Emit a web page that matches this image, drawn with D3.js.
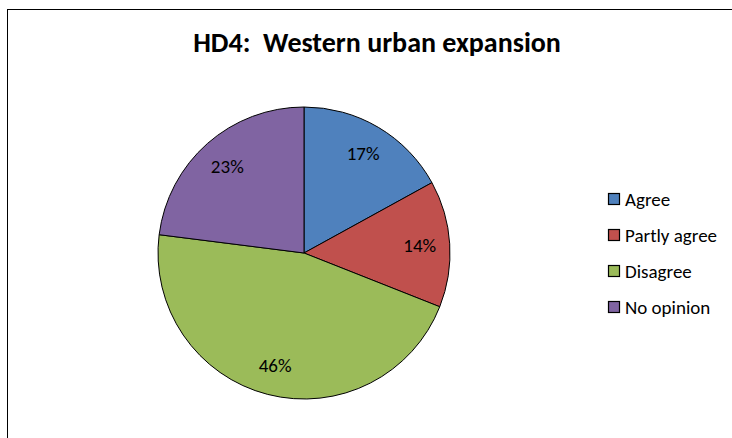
<!DOCTYPE html>
<html>
<head>
<meta charset="utf-8">
<script src="https://cdn.jsdelivr.net/npm/d3@7"></script>
<style>
  body { margin: 0; background: #fff; }
  text { font-family: Carlito, "Liberation Sans", sans-serif; }
</style>
</head>
<body>
<div id="chart"></div>
<script>
// Chart data
const categories = ['Agree', 'Partly agree', 'Disagree', 'No opinion'];
const values = [17, 14, 46, 23];
const colors = ['#4F81BD', '#C0504D', '#9BBB59', '#8064A2'];
const title = 'HD4:  Western urban expansion';

const width = 732;
const height = 438;
const radius = 146;

var svg = d3.select('#chart').append('svg')
    .attr('width', width)
    .attr('height', height);

// Outer frame of the chart area
svg.append('rect')
    .attr('x', 7.5)
    .attr('y', 9.5)
    .attr('width', 740)
    .attr('height', 440)
    .attr('fill', 'none')
    .attr('stroke', '#000')
    .attr('stroke-width', 1);

// Title
svg.append('text')
    .attr('x', 377)
    .attr('y', 52)
    .attr('text-anchor', 'middle')
    .attr('font-size', '28px')
    .attr('font-weight', 'bold')
    .style('white-space', 'pre')
    .text(title);

var data = categories.map(function(c, i) {
    return {name: c, value: values[i], color: colors[i]};
});

var pie = d3.pie()
    .sort(null)
    .value(function(d) { return d.value; });

var arc = d3.arc().innerRadius(0).outerRadius(radius);
var labelArc = d3.arc().innerRadius(116).outerRadius(116);

var g = svg.append('g')
    .attr('transform', 'translate(' + 304 + ',' + 253 + ')');

var slices = g.selectAll('.slice')
    .data(pie(data))
    .enter()
    .append('g')
    .attr('class', 'slice');

slices.append('path')
    .attr('d', arc)
    .attr('fill', function(d) { return d.data.color; })
    .attr('stroke', '#000')
    .attr('stroke-width', 1);

slices.append('text')
    .attr('transform', function(d) { return 'translate(' + labelArc.centroid(d) + ')'; })
    .attr('dy', '0.35em')
    .attr('text-anchor', 'middle')
    .attr('font-size', '19px')
    .attr('fill', '#000')
    .text(function(d) { return d.data.value + '%'; });

// Legend
var legendY = d3.scalePoint()
    .domain(categories)
    .range([199, 307]);

var legend = svg.append('g')
    .selectAll('.legend')
    .data(data)
    .enter()
    .append('g')
    .attr('class', 'legend')
    .attr('transform', function(d) { return 'translate(608,' + legendY(d.name) + ')'; });

legend.append('rect')
    .attr('x', 0.5)
    .attr('y', -5.5)
    .attr('width', 11)
    .attr('height', 11)
    .attr('fill', function(d) { return d.color; })
    .attr('stroke', '#000')
    .attr('stroke-width', 1.2);

legend.append('text')
    .attr('x', 17)
    .attr('dy', '0.35em')
    .attr('font-size', '19px')
    .text(function(d) { return d.name; });
</script>
</body>
</html>
